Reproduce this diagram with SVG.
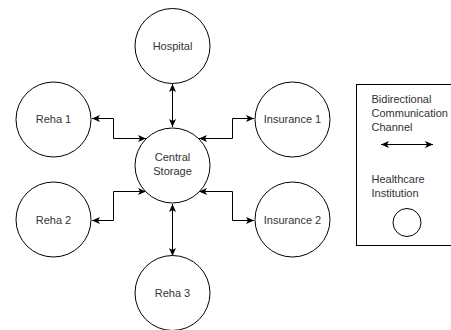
<svg xmlns="http://www.w3.org/2000/svg" width="451" height="330" viewBox="0 0 451 330">
<style>
.n{fill:#fff;stroke:#000;stroke-width:1}
.t{font-family:"Liberation Sans",Arial,sans-serif;font-size:11px;fill:#333}
.c{text-anchor:middle}
.e{fill:none;stroke:#000;stroke-width:1}
</style>
<defs>
<marker id="a" viewBox="0 0 8 8" refX="8" refY="4" markerWidth="8" markerHeight="8" markerUnits="userSpaceOnUse" orient="auto-start-reverse">
<path d="M0,0.5 L8,4 L0,7.5 L2,4 Z" fill="#000"/>
</marker>
</defs>
<rect width="451" height="330" fill="#fff"/>
<g id="connectors">
<path class="e" d="M172.5,84 V127" marker-start="url(#a)" marker-end="url(#a)"/>
<path class="e" d="M146,138.5 H113.5 V118.5 H92" marker-start="url(#a)" marker-end="url(#a)"/>
<path class="e" d="M199,138.5 H232.5 V118.5 H254" marker-start="url(#a)" marker-end="url(#a)"/>
<path class="e" d="M146,191.5 H113.5 V220.5 H92" marker-start="url(#a)" marker-end="url(#a)"/>
<path class="e" d="M199,191.5 H232.5 V220.5 H254" marker-start="url(#a)" marker-end="url(#a)"/>
<path class="e" d="M172.5,204 V256" marker-start="url(#a)" marker-end="url(#a)"/>
</g>
<g id="hospital"><circle class="n" cx="172.5" cy="46" r="37.5"/><text class="t c" x="172.5" y="50">Hospital</text></g>
<g id="reha1"><circle class="n" cx="53.5" cy="119.5" r="37.5"/><text class="t c" x="53.5" y="123">Reha 1</text></g>
<g id="insurance1"><circle class="n" cx="292.5" cy="119.5" r="37.5"/><text class="t c" x="292.5" y="123">Insurance 1</text></g>
<g id="central"><circle class="n" cx="172.5" cy="165.5" r="37.5"/><text class="t c" x="172.5" y="161">Central</text><text class="t c" x="172.5" y="175">Storage</text></g>
<g id="reha2"><circle class="n" cx="53.5" cy="219.5" r="37.5"/><text class="t c" x="53.5" y="223.5">Reha 2</text></g>
<g id="insurance2"><circle class="n" cx="292.5" cy="219.5" r="37.5"/><text class="t c" x="292.5" y="223.5">Insurance 2</text></g>
<g id="reha3"><circle class="n" cx="172.5" cy="293" r="37.5"/><text class="t c" x="172.5" y="297">Reha 3</text></g>
<g id="legend">
<rect x="356.5" y="84.5" width="110" height="161" fill="#fff" stroke="#000"/>
<text class="t" x="371.5" y="103">Bidirectional</text>
<text class="t" x="371.5" y="117">Communication</text>
<text class="t" x="371.5" y="131">Channel</text>
<path class="e" d="M381,144.5 H433" marker-start="url(#a)" marker-end="url(#a)"/>
<text class="t" x="371.5" y="183">Healthcare</text>
<text class="t" x="371.5" y="197">Institution</text>
<circle class="n" cx="407" cy="222.5" r="14"/>
</g>
</svg>
